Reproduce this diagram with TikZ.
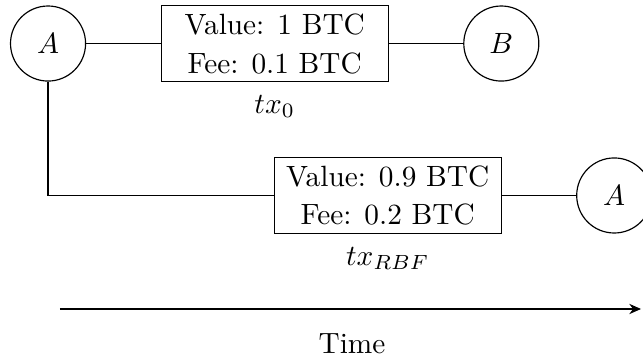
\documentclass[tikz,border=0pt]{standalone}
\usetikzlibrary{positioning,arrows.meta}
\tikzset{
  party/.style={draw, circle, minimum size=0.9cm, inner sep=0pt},
  txbox/.style={draw, align=center, inner sep=2.6pt, minimum width=2.72cm},
  txlabel/.style={inner sep=0.333em},
  link/.style={draw, line width=0.4pt}
}
\begin{document}
\begin{tikzpicture}
  \useasboundingbox (0,0) rectangle (7.71,-4.329);

  % first transaction: A pays B
  \node[party] (a1) at (0.576,-0.522) {$A$};
  \node[txbox] (tx0) at (3.294,-0.522) {Value: 1 BTC\\[1.3pt]Fee: 0.1 BTC};
  \node[party] (b) at (6.011,-0.522) {$B$};
  \node[txlabel, below=1pt of tx0] (l0) {$tx_0$};

  % replacement transaction: A pays back to A
  \node[txbox] (txr) at (4.649,-2.344) {Value: 0.9 BTC\\[1.3pt]Fee: 0.2 BTC};
  \node[party] (a2) at (7.365,-2.344) {$A$};
  \node[txlabel, below=1pt of txr] (lr) {$tx_{RBF}$};

  \path[link] (a1.east) -- (tx0.west);
  \path[link] (tx0.east) -- (b.west);
  \path[link] (a1.south) |- (txr.west);
  \path[link] (txr.east) -- (a2.west);

  % time axis
  \coordinate (t0) at (0.719,-3.705);
  \coordinate (t1) at (7.686,-3.705);
  \draw[-{Stealth[length=4pt,width=3.5pt]}] (t0) -- (t1);
  \node (time) at (4.221,-4.125) {Time};
\end{tikzpicture}
\end{document}
